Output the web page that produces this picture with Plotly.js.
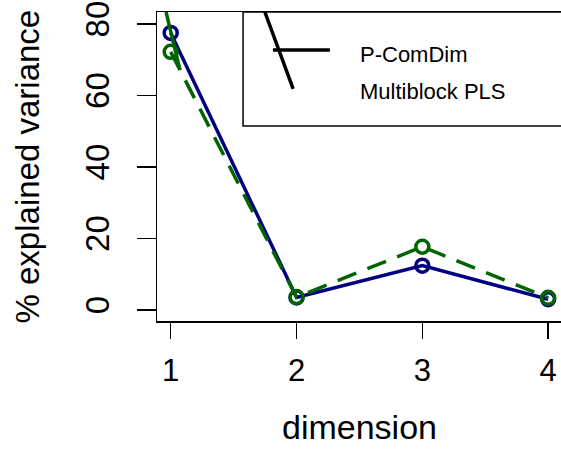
<!DOCTYPE html>
<html>
<head>
<meta charset="utf-8">
<script src="https://cdn.plot.ly/plotly-3.0.1.min.js"></script>
<style>html,body{margin:0;padding:0;background:#fff;}#chart{width:561px;height:449px;}</style>
</head>
<body>
<div id="chart"></div>
<script>
const dimensions = [1, 2, 3, 4];
const pComDim = [77.5, 3.5, 12.4, 3.0];
const multiblockPLS = [72.2, 3.6, 17.7, 3.4];
const xTicks = [1, 2, 3, 4];
const yTicks = [0, 20, 40, 60, 80];
const legendLabels = ["P-ComDim", "Multiblock PLS"];
const xTitle = "dimension";
const yTitle = "% explained variance";

const font = "Liberation Sans, Arial, sans-serif";

const traces = [
  {
    x: dimensions, y: pComDim, type: "scatter", mode: "lines+markers",
    line: {color: "#000080", width: 3.5},
    marker: {symbol: "circle-open", size: 13, color: "#000080", line: {width: 3.5, color: "#000080"}},
    cliponaxis: true, showlegend: false
  },
  {
    x: dimensions, y: multiblockPLS, type: "scatter", mode: "lines+markers",
    line: {color: "#006400", width: 3.5, dash: "20px,12px"},
    marker: {symbol: "circle-open", size: 13, color: "#006400", line: {width: 3.5, color: "#006400"}},
    cliponaxis: true, showlegend: false
  }
];

const layout = {
  width: 561, height: 449,
  margin: {l: 157, r: 0, t: 12, b: 128, pad: 0},
  paper_bgcolor: "#fff", plot_bgcolor: "#fff",
  font: {family: font, color: "#000"},
  showlegend: false,
  xaxis: {
    range: [0.891, 4.102], tickvals: xTicks, ticktext: xTicks.map(String),
    showgrid: false, zeroline: false, showline: true, mirror: true,
    linecolor: "#000", linewidth: 1.5,
    ticks: "outside", ticklen: 16, tickwidth: 1.5, tickcolor: "#000",
    tickfont: {size: 31, family: font, color: "#000"}, ticklabelstandoff: 5
  },
  yaxis: {
    range: [-3.08, 83.35], tickvals: yTicks, ticktext: yTicks.map(String),
    showgrid: false, zeroline: false, showline: true, mirror: true,
    linecolor: "#000", linewidth: 1.5,
    ticks: "outside", ticklen: 19, tickwidth: 1.5, tickcolor: "#000",
    tickangle: -90,
    tickfont: {size: 33, family: font, color: "#000"}, ticklabelstandoff: 14
  },
  shapes: [
    {type: "rect", xref: "paper", yref: "paper", x0: 0.213, x1: 1.05, y0: 0.631, y1: 1.0,
     line: {color: "#000", width: 1.5}, fillcolor: "rgba(0,0,0,0)"},
    {type: "line", xref: "paper", yref: "paper", x0: 0.267, y0: 1.0, x1: 0.337, y1: 0.751,
     line: {color: "#000", width: 3.5}},
    {type: "line", xref: "paper", yref: "paper", x0: 0.287, y0: 0.877, x1: 0.428, y1: 0.877,
     line: {color: "#000", width: 3.5}},
    {type: "line", xref: "x", yref: "y", x0: 0.963, y0: 83.35, x1: 1.074, y1: 67.1,
     line: {color: "#006400", width: 3.5}}
  ],
  annotations: [
    {text: legendLabels[0], xref: "paper", yref: "paper", x: 0.4975, y: 0.861,
     xanchor: "left", yanchor: "middle", showarrow: false, font: {size: 22, family: font, color: "#000"}},
    {text: legendLabels[1], xref: "paper", yref: "paper", x: 0.4975, y: 0.744,
     xanchor: "left", yanchor: "middle", showarrow: false, font: {size: 22, family: font, color: "#000"}},
    {text: xTitle, xref: "paper", yref: "paper", x: 0.5, y: 0, yshift: -106,
     xanchor: "center", yanchor: "middle", showarrow: false, font: {size: 34, family: font, color: "#000"}},
    {text: yTitle, xref: "paper", yref: "paper", x: 0, y: 0.5, xshift: -130, textangle: -90,
     xanchor: "center", yanchor: "middle", showarrow: false, font: {size: 33, family: font, color: "#000"}}
  ]
};

Plotly.newPlot("chart", traces, layout, {staticPlot: true, displayModeBar: false});
</script>
</body>
</html>
